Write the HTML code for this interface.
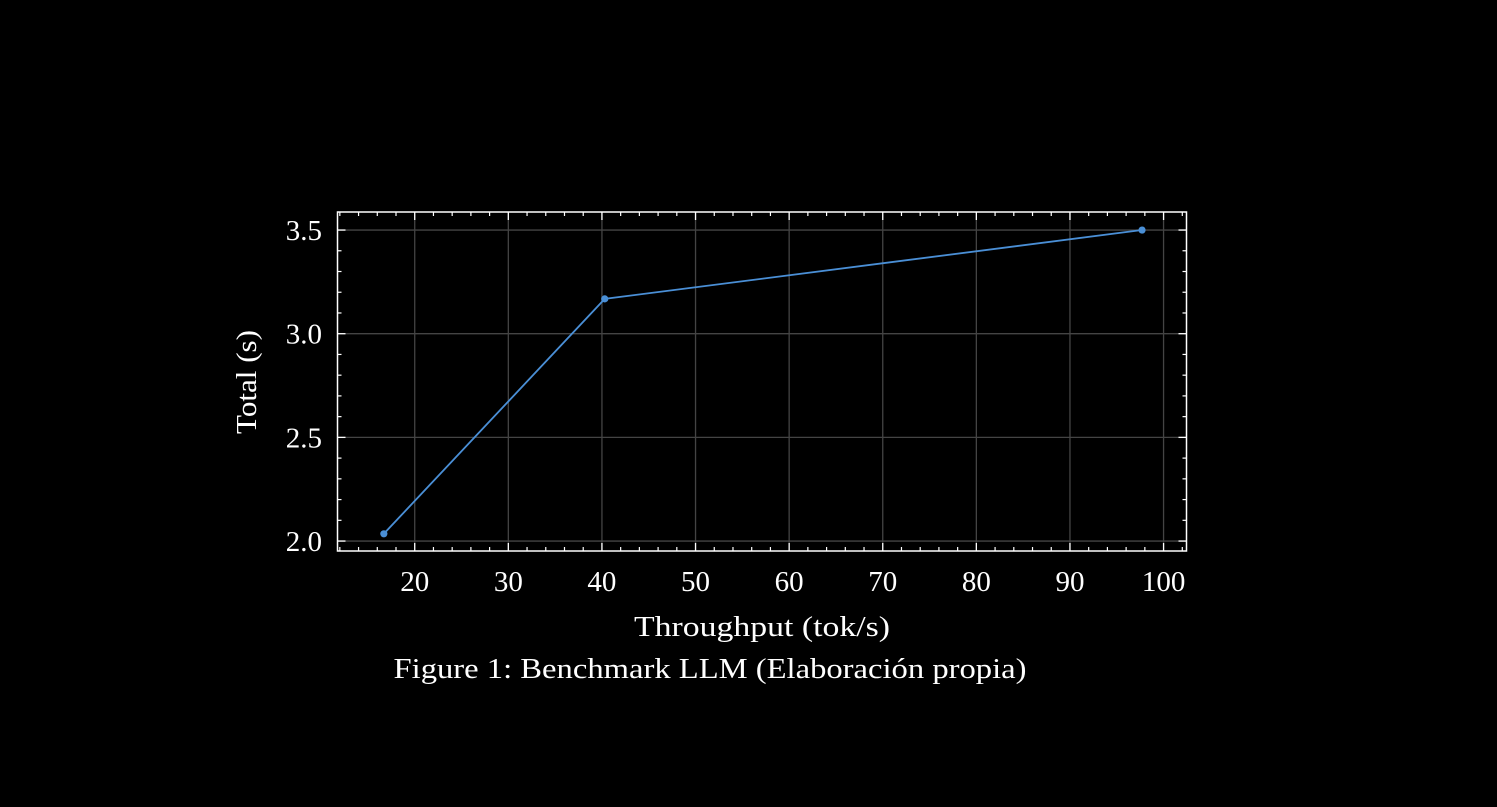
<!DOCTYPE html>
<html><head><meta charset="utf-8"><style>
html,body{margin:0;padding:0;background:#000;}
svg{display:block;font-family:"Liberation Serif",serif;}
</style></head><body>
<svg id="chart" width="1497" height="807" xmlns="http://www.w3.org/2000/svg">
<rect width="1497" height="807" fill="#000"/>
<g id="grid"></g>
<g id="series"></g>
<g id="axes"></g>
<text x="762" y="636" font-size="29" fill="#fff" text-anchor="middle" textLength="256" lengthAdjust="spacingAndGlyphs">Throughput (tok/s)</text>
<text transform="translate(256,382) rotate(-90)" font-size="29" fill="#fff" text-anchor="middle" textLength="104" lengthAdjust="spacingAndGlyphs">Total (s)</text>
<text x="710" y="678" font-size="29" fill="#fff" text-anchor="middle" textLength="633" lengthAdjust="spacingAndGlyphs">Figure 1: Benchmark LLM (Elaboración propia)</text>
</svg>
<script>
const xValues = [16.7, 40.3, 97.7];
const yValues = [2.035, 3.168, 3.5];
const xTicks = [20, 30, 40, 50, 60, 70, 80, 90, 100];
const yTicks = [2.0, 2.5, 3.0, 3.5];
const yTickLabels = ["2.0", "2.5", "3.0", "3.5"];

const L = 337.5, R = 1186.5, T = 212, B = 551;
const xMin = 11.75, xMax = 102.45, yMin = 1.952, yMax = 3.587;
const sx = v => L + (v - xMin) / (xMax - xMin) * (R - L);
const sy = v => B - (v - yMin) / (yMax - yMin) * (B - T);
const NS = "http://www.w3.org/2000/svg";
function mk(tag, attrs, parent) {
  const e = document.createElementNS(NS, tag);
  for (const k in attrs) e.setAttribute(k, attrs[k]);
  parent.appendChild(e);
  return e;
}
const grid = document.getElementById('grid');
const axes = document.getElementById('axes');
const series = document.getElementById('series');

xTicks.forEach(t => {
  const g = mk('line', {x1: sx(t), x2: sx(t), y1: T, y2: B, stroke: '#444', 'stroke-width': 1.3}, grid);
  
  
  const lb = mk('text', {x: sx(t), y: 591, 'font-size': 29, fill: '#fff', 'text-anchor': 'middle'}, axes);
  lb.textContent = t;
  
  
  [B, T].forEach((y0, i) => {
    const tk = mk('line', {x1: sx(t), x2: sx(t), y1: y0, y2: i ? y0 + 8 : y0 - 8, stroke: '#fff', 'stroke-width': 1.3}, axes);
    
    
  });
});
for (let v = 12; v <= 102; v += 2) {
  if (v % 10 === 0) continue;
  [B, T].forEach((y0, i) => {
    const tk = mk('line', {x1: sx(v), x2: sx(v), y1: y0, y2: i ? y0 + 4 : y0 - 4, stroke: '#fff', 'stroke-width': 1.2}, axes);
    
    
  });
}
yTicks.forEach((t, idx) => {
  const g = mk('line', {x1: L, x2: R, y1: sy(t), y2: sy(t), stroke: '#444', 'stroke-width': 1.3}, grid);
  
  
  const lb = mk('text', {x: 322, y: sy(t) + 10, 'font-size': 29, fill: '#fff', 'text-anchor': 'end'}, axes);
  lb.textContent = yTickLabels[idx];
  
  
  [L, R].forEach((x0, i) => {
    const tk = mk('line', {x1: x0, x2: i ? x0 - 8 : x0 + 8, y1: sy(t), y2: sy(t), stroke: '#fff', 'stroke-width': 1.3}, axes);
    
    
  });
});
for (let k = 20; k <= 35; k++) {
  if (k % 5 === 0) continue;
  const v = k / 10;
  [L, R].forEach((x0, i) => {
    const tk = mk('line', {x1: x0, x2: i ? x0 - 4 : x0 + 4, y1: sy(v), y2: sy(v), stroke: '#fff', 'stroke-width': 1.2}, axes);
    
    
  });
}
const frame = mk('rect', {x: L, y: T, width: R - L, height: B - T, fill: 'none', stroke: '#fff', 'stroke-width': 1.5}, axes);



const pts = xValues.map((x, i) => sx(x) + ',' + sy(yValues[i])).join(' ');
const line = mk('polyline', {points: pts, fill: 'none', stroke: '#4a8fd6', 'stroke-width': 1.8}, series);


xValues.forEach((x, i) => {
  const c = mk('circle', {cx: sx(x), cy: sy(yValues[i]), r: 3.6, fill: '#4a8fd6'}, series);
  
  
});
</script>
</body></html>
